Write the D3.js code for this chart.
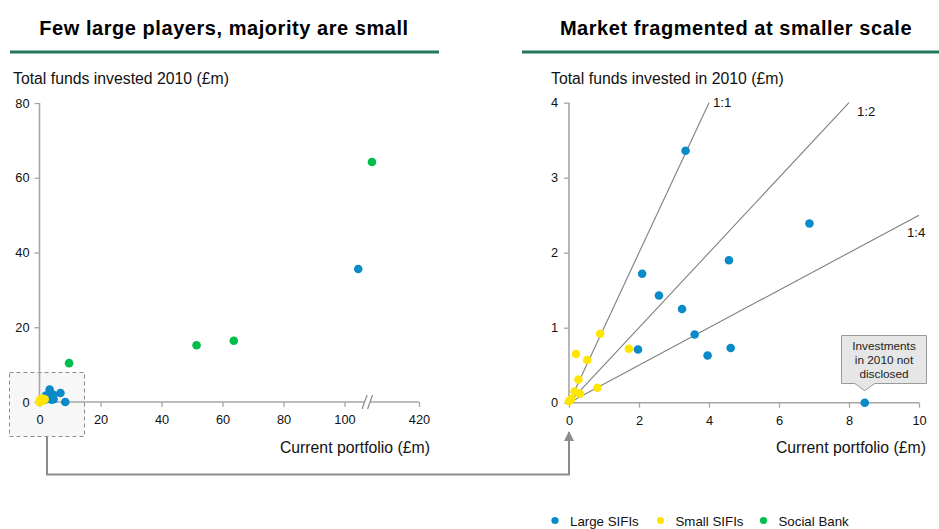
<!DOCTYPE html>
<html>
<head>
<meta charset="utf-8">
<script src="https://cdn.jsdelivr.net/npm/d3@7/dist/d3.min.js"></script>
<style>
  html, body { margin: 0; padding: 0; background: #fff; }
  svg { display: block; font-family: "Liberation Sans", Arial, sans-serif; }
</style>
</head>
<body>
<svg id="chart" width="939" height="529"></svg>
<script>
// Current portfolio (£m) and total funds invested in 2010 (£m), per group
const largeSifiPortfolio = [3.33, 6.87, 4.57, 2.09, 2.57, 3.23, 3.59, 1.97, 3.96, 4.62, 8.45, 104.5];
const largeSifiFunds     = [3.36, 2.39, 1.90, 1.72, 1.43, 1.25, 0.91, 0.71, 0.63, 0.73, 0.00, 35.6];
const smallSifiPortfolio = [0.89, 0.20, 0.52, 1.71, 0.27, 0.81, 0.16, 0.31, 0.00, 0.06];
const smallSifiFunds     = [0.92, 0.65, 0.57, 0.72, 0.31, 0.20, 0.15, 0.12, 0.02, 0.05];
const socialBankPortfolio = [9.7, 51.5, 63.7, 109];
const socialBankFunds     = [10.4, 15.2, 16.4, 64.2];

const seriesNames  = ["Large SIFIs", "Small SIFIs", "Social Bank"];
const seriesColors = ["#0a8bc9", "#ffe600", "#00be4c"];

const leftXTicks = [0, 20, 40, 60, 80, 100, 420];
const leftYTicks = [0, 20, 40, 60, 80];
const rightXTicks = [0, 2, 4, 6, 8, 10];
const rightYTicks = [0, 1, 2, 3, 4];
const ratioLines = [{ label: "1:1", k: 1 }, { label: "1:2", k: 0.5 }, { label: "1:4", k: 0.25 }];

const series = [
  { name: seriesNames[0], color: seriesColors[0], xs: largeSifiPortfolio, ys: largeSifiFunds },
  { name: seriesNames[1], color: seriesColors[1], xs: smallSifiPortfolio, ys: smallSifiFunds },
  { name: seriesNames[2], color: seriesColors[2], xs: socialBankPortfolio, ys: socialBankFunds }
];
const points = [];
series.forEach(s => s.xs.forEach((x, i) => points.push({ x, y: s.ys[i], color: s.color, name: s.name })));

const svg = d3.select("#chart");
const axisColor = "#a6a6a6";
const textColor = "#111";
const ruleColor = "#23795a";
const titleSize = 15.8;

// ---- Panel headers ----
svg.append("text").attr("x", 224).attr("y", 35).attr("text-anchor", "middle")
  .attr("font-size", 20).attr("font-weight", "bold").attr("letter-spacing", 0.55).attr("fill", "#000")
  .text("Few large players, majority are small");
svg.append("rect").attr("x", 10).attr("y", 50.5).attr("width", 429).attr("height", 3).attr("fill", ruleColor);

svg.append("text").attr("x", 736).attr("y", 35).attr("text-anchor", "middle")
  .attr("font-size", 20).attr("font-weight", "bold").attr("letter-spacing", 0.55).attr("fill", "#000")
  .text("Market fragmented at smaller scale");
svg.append("rect").attr("x", 522).attr("y", 50.5).attr("width", 417).attr("height", 3).attr("fill", ruleColor);

// ---- Left panel: full range with broken x axis ----
const xL = d3.scaleLinear().domain([0, 110, 420]).range([39.5, 375, 419]);
const yL = d3.scaleLinear().domain([0, 80]).range([402, 103]);

// zoom window around the origin
svg.append("rect").attr("x", 9.5).attr("y", 372.5).attr("width", 75).attr("height", 64)
  .attr("fill", "#f7f7f7").attr("stroke", "#8c8c8c").attr("stroke-width", 1)
  .attr("stroke-dasharray", "4,3");

svg.append("text").attr("x", 13).attr("y", 84).attr("font-size", titleSize).attr("fill", textColor)
  .text("Total funds invested 2010 (£m)");

const gLy = svg.append("g").attr("transform", `translate(${xL(0)},0)`)
  .call(d3.axisLeft(yL).tickValues(leftYTicks).tickSize(5).tickPadding(5).tickFormat(d3.format("d")));
const breakX = xL(107.4);
const gLx = svg.append("g").attr("transform", `translate(0,${yL(0)})`)
  .call(d3.axisBottom(xL).tickValues(leftXTicks).tickSize(5).tickPadding(8).tickFormat(d3.format("d")));
[gLy, gLx].forEach(g => {
  g.select(".domain").remove();
  g.selectAll(".tick line").attr("stroke", axisColor).attr("stroke-width", 1.3);
  g.selectAll(".tick text").attr("font-size", 12.8).attr("fill", textColor)
    .attr("font-family", "'Liberation Sans', Arial, sans-serif");
});
// axis lines, with a gap for the scale break
svg.append("line").attr("x1", xL(0)).attr("x2", xL(0)).attr("y1", yL(80)).attr("y2", yL(0))
  .attr("stroke", axisColor).attr("stroke-width", 1.6);
svg.append("line").attr("x1", xL(0)).attr("x2", breakX - 3).attr("y1", yL(0)).attr("y2", yL(0))
  .attr("stroke", axisColor).attr("stroke-width", 1.6);
svg.append("line").attr("x1", breakX + 3).attr("x2", xL(420)).attr("y1", yL(0)).attr("y2", yL(0))
  .attr("stroke", axisColor).attr("stroke-width", 1.6);
[-2.5, 3].forEach(dx => {
  svg.append("line")
    .attr("x1", breakX + dx - 2.5).attr("y1", yL(0) + 7)
    .attr("x2", breakX + dx + 2.5).attr("y2", yL(0) - 7)
    .attr("stroke", "#8c8c8c").attr("stroke-width", 1.2);
});
svg.append("text").attr("x", 430).attr("y", 453).attr("text-anchor", "end")
  .attr("font-size", titleSize).attr("fill", textColor).text("Current portfolio (£m)");

const leftOrder = [...points].sort((a, b) => (a.name === "Small SIFIs") - (b.name === "Small SIFIs"));
svg.append("g").selectAll("circle").data(leftOrder).join("circle")
  .attr("cx", d => xL(d.x)).attr("cy", d => yL(d.y)).attr("r", 4.3)
  .attr("fill", d => d.color);

// ---- Right panel: zoom on the small range ----
const xR = d3.scaleLinear().domain([0, 10]).range([569, 919]);
const yR = d3.scaleLinear().domain([0, 4]).range([402.7, 102.7]);

svg.append("text").attr("x", 551).attr("y", 84).attr("font-size", titleSize).attr("fill", textColor)
  .text("Total funds invested in 2010 (£m)");

const gRy = svg.append("g").attr("transform", `translate(${xR(0)},0)`)
  .call(d3.axisLeft(yR).tickValues(rightYTicks).tickSize(5).tickPadding(6).tickFormat(d3.format("d")));
const gRx = svg.append("g").attr("transform", `translate(0,${yR(0)})`)
  .call(d3.axisBottom(xR).tickValues(rightXTicks).tickSize(5).tickPadding(8).tickFormat(d3.format("d")));
[gRy, gRx].forEach(g => {
  g.select(".domain").attr("stroke", axisColor).attr("stroke-width", 1.6);
  g.selectAll(".tick line").attr("stroke", axisColor).attr("stroke-width", 1.3);
  g.selectAll(".tick text").attr("font-size", 12.8).attr("fill", textColor)
    .attr("font-family", "'Liberation Sans', Arial, sans-serif");
});
gRy.select(".domain").attr("d", `M0,${yR(4)}V${yR(0)}`);
gRx.select(".domain").attr("d", `M${xR(0)},0H${xR(10)}`);

svg.append("text").attr("x", 926).attr("y", 453).attr("text-anchor", "end")
  .attr("font-size", titleSize).attr("fill", textColor).text("Current portfolio (£m)");

// reference ratio lines, clipped to the plot frame
ratioLines.forEach(r => {
  const xEnd = Math.min(10, 4 / r.k);
  svg.append("line")
    .attr("x1", xR(0)).attr("y1", yR(0))
    .attr("x2", xR(xEnd)).attr("y2", yR(xEnd * r.k))
    .attr("stroke", "#7f7f7f").attr("stroke-width", 1.1);
});
svg.append("text").attr("x", xR(4) + 4).attr("y", 107).attr("font-size", 13.2).attr("fill", textColor).text("1:1");
svg.append("text").attr("x", xR(8) + 8).attr("y", 116).attr("font-size", 13.2).attr("fill", textColor).text("1:2");
svg.append("text").attr("x", xR(10) - 12).attr("y", 237).attr("font-size", 13.2).attr("fill", textColor).text("1:4");

const rightPoints = points.filter(d => d.x <= 10 && d.y <= 4);
const rightOrder = [...rightPoints].sort((a, b) => (a.name === "Small SIFIs") - (b.name === "Small SIFIs"));
svg.append("g").selectAll("circle").data(rightOrder).join("circle")
  .attr("cx", d => xR(d.x)).attr("cy", d => yR(d.y)).attr("r", 4.3)
  .attr("fill", d => d.color);

// callout for the undisclosed point
const undisclosed = rightPoints.find(d => d.name === "Large SIFIs" && d.y === 0);
const tipX = xR(undisclosed.x), tipY = yR(undisclosed.y) - 12;
const bx = 841.5, by = 335.5, bw = 85, bh = 48;
svg.append("path")
  .attr("d", `M${bx},${by}H${bx + bw}V${by + bh}H${tipX + 10}L${tipX},${tipY}L${tipX - 10},${by + bh}H${bx}Z`)
  .attr("fill", "#e6e6e6").attr("stroke", "#9a9a9a").attr("stroke-width", 1);
["Investments", "in 2010 not", "disclosed"].forEach((t, i) => {
  svg.append("text").attr("x", bx + bw / 2).attr("y", by + 14 + i * 14)
    .attr("text-anchor", "middle").attr("font-size", 11.8).attr("fill", "#222").text(t);
});

// ---- Connector from zoom window to right panel ----
svg.append("defs").append("marker").attr("id", "arrowHead")
  .attr("viewBox", "0 0 10 10").attr("refX", 9).attr("refY", 5)
  .attr("markerWidth", 5).attr("markerHeight", 5).attr("orient", "auto")
  .append("path").attr("d", "M0,0L10,5L0,10Z").attr("fill", "#8c8c8c");
svg.append("path")
  .attr("d", `M47,437V474.5H${xR(0)}V432`)
  .attr("fill", "none").attr("stroke", "#8c8c8c").attr("stroke-width", 2)
  .attr("marker-end", "url(#arrowHead)");

// ---- Legend ----
const legendX = [555, 660.5, 763.5];
const legend = svg.append("g");
series.forEach((s, i) => {
  legend.append("circle").attr("cx", legendX[i]).attr("cy", 520.5).attr("r", 3.6).attr("fill", s.color);
  legend.append("text").attr("x", legendX[i] + 15).attr("y", 525.5).attr("font-size", 13.3)
    .attr("fill", textColor).text(s.name);
});
</script>
</body>
</html>
